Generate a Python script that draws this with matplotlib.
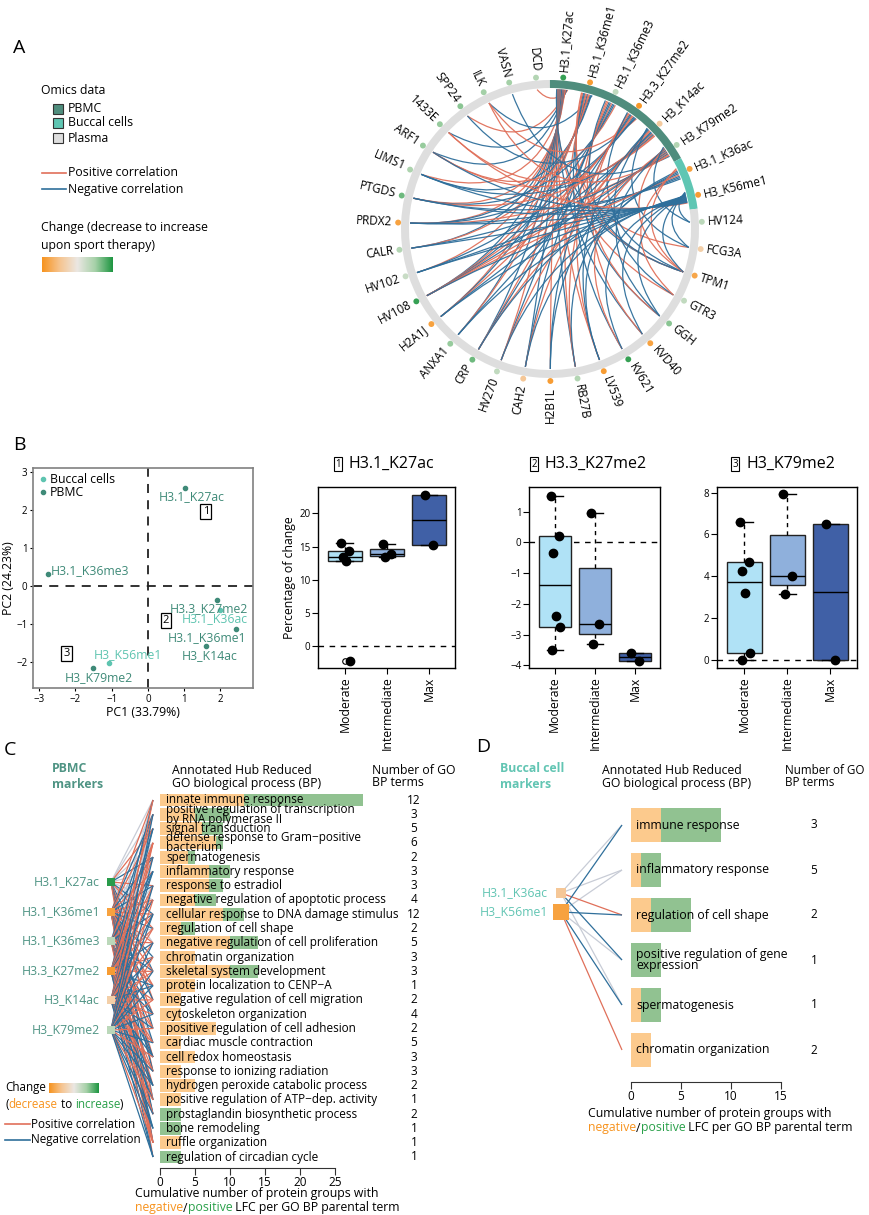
import numpy as np
import matplotlib
matplotlib.use("Agg")
import matplotlib.pyplot as plt
from matplotlib.patches import Wedge, Rectangle, PathPatch
from matplotlib.path import Path
from matplotlib.colors import LinearSegmentedColormap
from matplotlib.lines import Line2D

plt.rcParams['font.family'] = ['Open Sans', 'DejaVu Sans']

W, H = 869, 1215

# ---------------- data ----------------
# A: circos plot
circ_nodes = ['H3.1_K27ac', 'H3.1_K36me1', 'H3.1_K36me3', 'H3.3_K27me2', 'H3_K14ac',
              'H3_K79me2', 'H3.1_K36ac', 'H3_K56me1', 'HV124', 'FCG3A', 'TPM1', 'GTR3',
              'GGH', 'KVD40', 'KV621', 'LV539', 'RB27B', 'H2B1L', 'CAH2', 'HV270', 'CRP',
              'ANXA1', 'H2A1J', 'HV108', 'HV102', 'CALR', 'PRDX2', 'PTGDS', 'LIMS1', 'ARF1',
              '1433E', 'SPP24', 'ILK', 'VASN', 'DCD']
circ_source = ['PBMC'] * 6 + ['Buccal cells'] * 2 + ['Plasma'] * 27
circ_change = [0.9, -0.9, 0.3, -0.95, -0.4, 0.4, -0.85, -0.9, 0.35, -0.35, -0.8, 0.3,
               0.6, -0.85, 0.9, -0.9, 0.4, -0.9, -0.45, 0.3, 0.7, 0.55, -0.85, 0.9, 0.25,
               0.4, -0.85, 0.7, 0.45, 0.55, 0.55, 0.6, 0.5, 0.5, 0.4]
circ_links = {
    'H3.1_K27ac': 'PRDX2+ PTGDS+ LIMS1+ HV108- H2A1J+ ANXA1- CRP- HV270+ CAH2- H2B1L+ RB27B- '
                  'LV539+ KVD40- GTR3+ TPM1- ARF1- SPP24+ 1433E- HV102+ CALR- DCD+',
    'H3.1_K36me1': 'HV108+ H2A1J- PRDX2- CALR+ ANXA1+ RB27B+ KV621- GGH- TPM1+ FCG3A+ LIMS1- ILK-',
    'H3.1_K36me3': 'HV108- CRP+ CAH2- LV539+ PTGDS- ARF1+ TPM1- HV270- GGH+',
    'H3.3_K27me2': 'HV108+ H2A1J+ PRDX2- HV102- CRP- H2B1L- RB27B+ KVD40+ TPM1- ILK+ SPP24-',
    'H3_K14ac': 'PTGDS+ LIMS1- ANXA1- HV108- HV270+ CAH2+ LV539- GTR3- ARF1+ FCG3A- 1433E+',
    'H3_K79me2': 'H2A1J- HV108+ CALR- PRDX2+ CRP+ H2B1L- KV621+ GGH- TPM1+ HV124- VASN- ILK+',
    'H3.1_K36ac': 'PRDX2- PTGDS- HV102- HV108+ CRP- RB27B- LV539- TPM1+ GTR3+',
    'H3_K56me1': 'PRDX2- CALR- HV102- PTGDS- LIMS1- HV108- H2A1J- ANXA1- CAH2- HV270- KV621- '
                 'KVD40- GGH- TPM1- FCG3A- HV124- 1433E+ ARF1-',
}

# B: PCA of histone marks
pca_names = ['H3.1_K27ac', 'H3.1_K36me3', 'H3.3_K27me2', 'H3.1_K36ac', 'H3.1_K36me1',
             'H3_K14ac', 'H3_K56me1', 'H3_K79me2']
pca_pc1 = [1.02, -2.76, 1.9, 1.99, 2.43, 1.6, -1.07, -1.52]
pca_pc2 = [2.58, 0.31, -0.37, -0.63, -1.13, -1.58, -2.03, -2.16]
pca_tissue = ['PBMC', 'PBMC', 'PBMC', 'Buccal cells', 'PBMC', 'PBMC', 'Buccal cells', 'PBMC']
pca_boxes = [('1', 1.6, 1.95), ('2', 0.5, -0.9), ('3', -2.24, -1.77)]

# B: boxplots, percentage of change
box_groups = ['Moderate', 'Intermediate', 'Max']
box_titles = ['H3.1_K27ac', 'H3.3_K27me2', 'H3_K79me2']
k27ac_pct = [[15.5, 14.3, 13.4, 12.9, -2.2], [15.4, 13.9, 13.4], [22.8, 15.2]]
k27me2_pct = [[1.5, 0.2, -0.35, -2.4, -2.75, -3.5], [0.95, -2.65, -3.3], [-3.6, -3.85]]
k79me2_pct = [[6.6, 4.7, 4.25, 3.2, 0.3, 0.0], [7.95, 4.0, 3.15], [6.5, 0.0]]
box_ticks = [[0, 5, 10, 15, 20], [-4, -3, -2, -1, 0, 1], [0, 2, 4, 6, 8]]

# C: PBMC markers vs GO BP terms
pbmc_terms = ['innate immune response',
              'positive regulation of transcription\nby RNA polymerase II',
              'signal transduction',
              'defense response to Gram\u2212positive\nbacterium',
              'spermatogenesis', 'inflammatory response', 'response to estradiol',
              'negative regulation of apoptotic process',
              'cellular response to DNA damage stimulus', 'regulation of cell shape',
              'negative regulation of cell proliferation', 'chromatin organization',
              'skeletal system development', 'protein localization to CENP\u2212A',
              'negative regulation of cell migration', 'cytoskeleton organization',
              'positive regulation of cell adhesion', 'cardiac muscle contraction',
              'cell redox homeostasis', 'response to ionizing radiation',
              'hydrogen peroxide catabolic process',
              'positive regulation of ATP\u2212dep. activity',
              'prostaglandin biosynthetic process', 'bone remodeling', 'ruffle organization',
              'regulation of circadian cycle']
pbmc_neg = [12, 5, 6, 8, 4, 7, 7, 5, 9, 3, 10, 5, 10, 5, 3, 3, 8, 3, 5, 3, 5, 3, 0, 0, 3, 0]
pbmc_pos = [17, 5, 3, 1, 1, 3, 2, 3, 3, 2, 4, 0, 4, 0, 0, 0, 0, 0, 0, 0, 0, 0, 3, 3, 0, 3]
pbmc_nterms = [12, 3, 5, 6, 2, 3, 3, 4, 12, 2, 5, 3, 3, 1, 2, 4, 2, 5, 3, 3, 2, 1, 2, 1, 1, 1]
pbmc_markers = ['H3.1_K27ac', 'H3.1_K36me1', 'H3.1_K36me3', 'H3.3_K27me2', 'H3_K14ac', 'H3_K79me2']
pbmc_marker_change = [0.95, -0.85, 0.35, -0.9, -0.35, 0.35]
# one character per GO term: P positive, N negative, g weak, . none
pbmc_links = ['ggPgNgPgNPg.N.P.N..P.N..P.',
              'PNPgNPNPPNPNPPNP.NPN.PN.NP',
              'gNgPgNgPNgP.NP.NPgN.P.N.P.',
              'NPNPPNPNPPNPPNPNPPNPNPPNPN',
              'PgNPgNP.NPPNPNPPNPNPNNPNPN',
              '.N.PN.NPN.NPNNPNPNPNNPNNPN']

# D: buccal cell markers vs GO BP terms
bucc_terms = ['immune response', 'inflammatory response', 'regulation of cell shape',
              'positive regulation of gene\nexpression', 'spermatogenesis', 'chromatin organization']
bucc_neg = [3, 1, 2, 0, 1, 2]
bucc_pos = [6, 2, 4, 3, 2, 0]
bucc_nterms = [3, 5, 2, 1, 1, 2]
bucc_markers = ['H3.1_K36ac', 'H3_K56me1']
bucc_marker_change = [-0.45, -0.85]
bucc_links = ['ggPNg.', 'NgNgNP']

# ---------------- style ----------------
cmap = LinearSegmentedColormap.from_list(
    'chg', ['#f7931e', '#f6c48f', '#ebe7e3', '#a6d1a8', '#1c9540'])
def chg_col(v):
    return cmap((v + 1) / 2)

src_col = {'PBMC': '#4f8d7d', 'Buccal cells': '#5fc6b3', 'Plasma': '#dedede'}
pos_col, neg_col, weak_col = '#e0705a', '#2f6f9b', '#c8ccd6'
pbmc_txt, bucc_txt = '#4f9484', '#62c5b3'
bar_or, bar_gr = '#fcca8d', '#91c291'
box_fc = ['#b0e2f6', '#8fb0dc', '#4060a6']
FS = 8.8

fig = plt.figure(figsize=(W / 100, H / 100), dpi=100)


def px_axes(x0, y0, x1, y1):
    return fig.add_axes([x0 / W, 1 - y1 / H, (x1 - x0) / W, (y1 - y0) / H])


# ---------------- A: circos ----------------
cx = px_axes(350, 29, 750, 429)
cx.set_xlim(-200, 200)
cx.set_ylim(-200, 200)
cx.axis('off')
n = len(circ_nodes)
step = 360 / n
ang = 85 - step * np.arange(n)
idx = {nm: i for i, nm in enumerate(circ_nodes)}

# ring segments per data source (contiguous runs)
start = 0
for i in range(1, n + 1):
    if i == n or circ_source[i] != circ_source[start]:
        cx.add_patch(Wedge((0, 0), 149, ang[i - 1] - step / 2, ang[start] + step / 2,
                           width=8, color=src_col[circ_source[start]], lw=0))
        start = i

r_in = 140
for h, spec in circ_links.items():
    toks = [(t[:-1], t[-1]) for t in spec.split()]
    toks.sort(key=lambda t: (ang[idx[t[0]]] - ang[idx[h]]) % 360)
    offs = np.linspace(-0.22, 0.22, len(toks)) * step
    for (p, sg), off in zip(toks, offs):
        a1 = np.radians(ang[idx[h]] + off)
        a2 = np.radians(ang[idx[p]])
        p1 = np.array([np.cos(a1), np.sin(a1)]) * r_in
        p2 = np.array([np.cos(a2), np.sin(a2)]) * r_in
        mid = (p1 + p2) / 2
        m = np.hypot(*mid)
        depth = max(m - 0.55 * np.hypot(*(p1 - p2)), 0)
        ctrl = mid / m * depth if m > 1e-6 else np.zeros(2)
        path = Path([p1, ctrl, p2], [Path.MOVETO, Path.CURVE3, Path.CURVE3])
        cx.add_patch(PathPatch(path, fc='none', ec=pos_col if sg == '+' else neg_col,
                               lw=0.9, alpha=0.95))

rad = np.radians(ang)
cx.scatter(152 * np.cos(rad), 152 * np.sin(rad), s=18,
           c=[chg_col(v) for v in circ_change], zorder=5, lw=0)
for i, nm in enumerate(circ_nodes):
    a = (ang[i] + 180) % 360 - 180
    x, y = 158 * np.cos(rad[i]), 158 * np.sin(rad[i])
    if -89.5 < a <= 90:
        rot, ha = a, 'left'
    else:
        rot, ha = (a - 180 if a > 0 else a + 180), 'right'
    cx.text(x, y, nm, rotation=rot, rotation_mode='anchor', ha=ha, va='center', fontsize=8.5)

# ---------------- B: PCA ----------------
ax = px_axes(33, 468, 253, 688)
ax.set_xlim(-3.17, 2.9)
ax.set_ylim(-2.68, 3.1)
ax.axhline(0, color='#222222', lw=1.3, ls=(0, (5, 4)))
ax.axvline(0, color='#222222', lw=1.3, ls=(0, (5, 4)))
tcol = {'PBMC': '#3f8a78', 'Buccal cells': '#5ec4b0'}
lab_off = {'H3.1_K27ac': (7, -9, 'center'), 'H3.1_K36me3': (3, 4, 'left'),
           'H3.3_K27me2': (31, -8, 'right'), 'H3.1_K36ac': (28, -9, 'right'),
           'H3.1_K36me1': (10, -9, 'right'), 'H3_K14ac': (32, -9, 'right'),
           'H3_K56me1': (19, 9, 'center'), 'H3_K79me2': (6, -9, 'center')}
for nm, x, y, t in zip(pca_names, pca_pc1, pca_pc2, pca_tissue):
    ax.plot(x, y, 'o', ms=3, color=tcol[t])
    dx, dy, ha = lab_off[nm]
    ax.annotate(nm, (x, y), xytext=(dx, dy), textcoords='offset pixels', ha=ha,
                va='center', color=tcol[t], fontsize=FS)
for s, x, y in pca_boxes:
    ax.text(x, y, s, ha='center', va='center', fontsize=8,
            bbox=dict(boxstyle='square,pad=0.2', fc='white', ec='black', lw=0.9))
for sp in ax.spines.values():
    sp.set_color('#808080')
    sp.set_linewidth(1.2)
ax.set_xticks([-3, -2, -1, 0, 1, 2])
ax.set_yticks([-2, -1, 0, 1, 2, 3])
ax.tick_params(labelsize=7, length=2.5, pad=1.5)
ax.set_xlabel('PC1 (33.79%)', fontsize=FS, labelpad=1)
ax.set_ylabel('PC2 (24.23%)', fontsize=FS, labelpad=1)
ax.legend(handles=[Line2D([], [], marker='o', ls='', ms=3, color=tcol[k], label=k)
                   for k in ['Buccal cells', 'PBMC']],
          loc='upper left', frameon=False, fontsize=FS, handletextpad=0.2,
          handlelength=0.8, labelspacing=0.05, borderaxespad=0.2, borderpad=0.2)

# ---------------- B: boxplots ----------------


def fivenum_stats(vals):
    v = np.sort(np.asarray(vals, float))
    k = len(v)
    n4 = np.floor((k + 3) / 2) / 2
    d = np.array([1, n4, (k + 1) / 2, k + 1 - n4, k]) - 1
    fn = 0.5 * (v[np.floor(d).astype(int)] + v[np.ceil(d).astype(int)])
    q1, med, q3 = fn[1], fn[2], fn[3]
    iqr = q3 - q1
    ok = (v >= q1 - 1.5 * iqr) & (v <= q3 + 1.5 * iqr)
    return dict(med=med, q1=q1, q3=q3, whislo=v[ok].min(), whishi=v[ok].max(), fliers=v[~ok])


jit = [-0.1, 0.1, -0.05, 0.02, 0.12, -0.06]
box_px = [(318, 455), (529, 660), (717, 857)]
box_ylim = [(-3.24, 23.95), (-4.09, 1.8), (-0.4, 8.27)]
box_num_x = [338, 534, 735]
for b, data in enumerate([k27ac_pct, k27me2_pct, k79me2_pct]):
    bx = px_axes(box_px[b][0], 487, box_px[b][1], 668)
    stats = [fivenum_stats(g) for g in data]
    art = bx.bxp(stats, positions=[1, 2, 3], widths=0.8, patch_artist=True,
                 boxprops=dict(lw=1, ec='#222222'),
                 whiskerprops=dict(ls=(0, (3, 3)), lw=1, color='black'),
                 capprops=dict(lw=1, color='black'),
                 medianprops=dict(lw=1, color='black'),
                 flierprops=dict(marker='o', mfc='none', mec='black', ms=4, mew=0.8))
    for patch, fc in zip(art['boxes'], box_fc):
        patch.set_facecolor(fc)
    bx.axhline(0, color='black', lw=1, ls=(0, (4, 4)), zorder=0.5)
    for g, vals in enumerate(data):
        bx.plot(g + 1 + np.array(jit[:len(vals)]), vals, 'o', color='black', ms=6, zorder=6)
    bx.set_xlim(0.36, 3.62)
    bx.set_ylim(*box_ylim[b])
    bx.set_yticks(box_ticks[b])
    bx.set_xticks([1, 2, 3])
    bx.set_xticklabels(box_groups, rotation=90, fontsize=FS)
    bx.tick_params(axis='y', labelsize=7, length=4, pad=1.5)
    bx.tick_params(axis='x', length=4, pad=2)
    for sp in bx.spines.values():
        sp.set_linewidth(1)
    if b == 0:
        bx.set_ylabel('Percentage of change', fontsize=FS, labelpad=2)
    fig.text(box_num_x[b] / W, 1 - 464 / H, str(b + 1), ha='center', va='center', fontsize=7,
             bbox=dict(boxstyle='square,pad=0.15', fc='white', ec='black', lw=0.8))
    fig.text((box_num_x[b] + 11) / W, 1 - 464 / H, box_titles[b], ha='left', va='center',
             fontsize=11.5)

# ---------------- C / D: bar charts ----------------


def go_bars(x0, x1, row0, sp, nrows, axis_y, xmax, terms, neg, pos, fs, hgt):
    a = px_axes(x0, row0 - 0.5 * sp, x1, axis_y)
    rows = np.arange(nrows)
    a.barh(rows, neg, height=hgt, color=bar_or, clip_on=False)
    a.barh(rows, pos, left=neg, height=hgt, color=bar_gr, clip_on=False)
    for r, t in zip(rows, terms):
        a.text(0.035 * xmax, r, t, ha='left', va='center', fontsize=fs, linespacing=0.72,
               clip_on=False)
    a.set_xlim(0, xmax)
    a.set_ylim((axis_y - row0) / sp, -0.5)
    a.set_yticks([])
    for s in ['left', 'top', 'right']:
        a.spines[s].set_visible(False)
    a.spines['bottom'].set_bounds(0, xmax)
    a.spines['bottom'].set_color('#333333')
    a.set_xticks(np.arange(0, xmax + 1, 5))
    a.tick_params(axis='x', labelsize=8.5, length=5, pad=0.5, color='#333333')
    return a


cax = go_bars(160, 335, 800, 14.28, len(pbmc_terms), 1168, 25, pbmc_terms,
              pbmc_neg, pbmc_pos, 8.5, 0.9)
dax = go_bars(631, 781, 825, 45, len(bucc_terms), 1082, 15, bucc_terms,
              bucc_neg, bucc_pos, 8.8, 0.75)

# overlay in pixel coordinates for networks, legends and headers
ov = fig.add_axes([0, 0, 1, 1])
ov.axis('off')


def row_px(a, r):
    return H - a.transData.transform((0, r))[1]


def network(markers, changes, links, node_x, node_y, end_x, a, txt_col, ms, lab_x):
    for lvl in ['g', 'PN']:
        for m, spec in enumerate(links):
            for r, c in enumerate(spec):
                if c in lvl:
                    col = {'P': pos_col, 'N': neg_col, 'g': weak_col}[c]
                    ov.plot([node_x, end_x], [node_y[m], row_px(a, r)], color=col, lw=0.9,
                            solid_capstyle='butt')
    for m, nm in enumerate(markers):
        ov.plot(node_x, node_y[m], 's', ms=ms[m], color=chg_col(changes[m]), mew=0, zorder=5)
        ov.text(lab_x, node_y[m], nm, ha='right', va='center', fontsize=FS, color=txt_col)


network(pbmc_markers, pbmc_marker_change, pbmc_links, 111, [882, 912, 941, 971, 1000, 1030],
        153, cax, pbmc_txt, [5.5] * 6, 100)
network(bucc_markers, bucc_marker_change, bucc_links, 561, [893, 912], 622, dax, bucc_txt,
        [7, 11], 548)

for r, v in enumerate(pbmc_nterms):
    ov.text(414, row_px(cax, r), str(v), ha='center', va='center', fontsize=8.5)
for r, v in enumerate(bucc_nterms):
    ov.text(814, row_px(dax, r), str(v), ha='center', va='center', fontsize=8.5)

rend = fig.canvas.get_renderer()


def rich(x, y, parts, fs):
    for s, c in parts:
        t = ov.text(x, y, s, color=c, ha='left', va='center', fontsize=fs)
        x += t.get_window_extent(renderer=rend).width


def gradient(x0, x1, y0, y1):
    ov.imshow(np.linspace(0, 1, 256)[None, :], cmap=cmap, aspect='auto',
              extent=[x0, x1, y1, y0], interpolation='bilinear')


# panel letters
for s, x, y in [('A', 13, 48), ('B', 13, 445), ('C', 4, 750), ('D', 476, 747)]:
    ov.text(x, y, s, fontsize=14, ha='left', va='center')

# A legend
ov.text(41, 91, 'Omics data', fontsize=FS, va='center')
for k, (lab, y) in enumerate([('PBMC', 109), ('Buccal cells', 123), ('Plasma', 138)]):
    ov.add_patch(Rectangle((53, y - 5), 10, 10, fc=src_col[lab], ec='#333333', lw=0.8))
    ov.text(68, y, lab, fontsize=FS, va='center')
for col, lab, y in [(pos_col, 'Positive correlation', 173), (neg_col, 'Negative correlation', 189)]:
    ov.plot([42, 66], [y, y], color=col, lw=1.2)
    ov.text(68, y, lab, fontsize=FS, va='center')
ov.text(41, 228, 'Change (decrease to increase', fontsize=FS, va='center')
ov.text(41, 245, 'upon sport therapy)', fontsize=FS, va='center')
gradient(42, 113, 257, 272)

# C headers and legend
LF = 8.4
ov.text(52, 769, 'PBMC', fontsize=FS, color=pbmc_txt, fontweight='bold', va='center')
ov.text(52, 784, 'markers', fontsize=FS, color=pbmc_txt, fontweight='bold', va='center')
ov.text(172, 776.5, 'Annotated Hub Reduced\nGO biological process (BP)', fontsize=FS,
        va='center', linespacing=1.0)
ov.text(372, 776.5, 'Number of GO\nBP terms', fontsize=FS, va='center', linespacing=1.0)
ov.text(5, 1088, 'Change', fontsize=LF, va='center')
gradient(49, 99, 1083, 1093)
rich(5, 1104, [('(', 'black'), ('decrease', '#f7931e'), (' to ', 'black'),
               ('increase', '#2aa04a'), (')', 'black')], LF)
for col, lab, y in [(pos_col, 'Positive correlation', 1124), (neg_col, 'Negative correlation', 1140)]:
    ov.plot([5, 30], [y, y], color=col, lw=1.2)
    ov.text(31, y, lab, fontsize=LF, va='center')
ov.text(135, 1194, 'Cumulative number of protein groups with', fontsize=FS, va='center')
rich(135, 1208, [('negative', '#f7931e'), ('/', 'black'), ('positive', '#2aa04a'),
                 (' LFC per GO BP parental term', 'black')], FS)

# D headers
ov.text(500, 769, 'Buccal cell', fontsize=FS, color=bucc_txt, fontweight='bold', va='center')
ov.text(500, 784, 'markers', fontsize=FS, color=bucc_txt, fontweight='bold', va='center')
ov.text(602, 776.5, 'Annotated Hub Reduced\nGO biological process (BP)', fontsize=FS,
        va='center', linespacing=1.0)
ov.text(785, 776.5, 'Number of GO\nBP terms', fontsize=8.4, va='center', linespacing=1.0)
ov.text(588, 1114, 'Cumulative number of protein groups with', fontsize=FS, va='center')
rich(588, 1128, [('negative', '#f7931e'), ('/', 'black'), ('positive', '#2aa04a'),
                 (' LFC per GO BP parental term', 'black')], FS)

ov.set_xlim(0, W)
ov.set_ylim(H, 0)

fig.savefig('out.png', dpi=100)
